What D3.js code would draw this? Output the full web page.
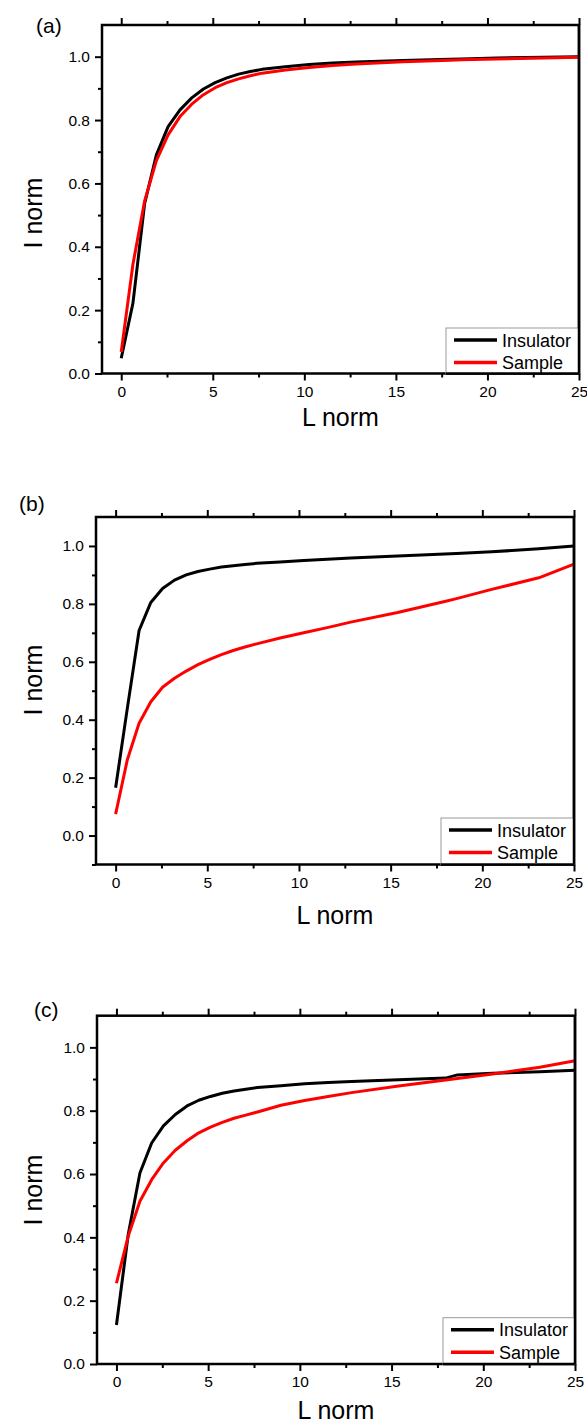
<!DOCTYPE html>
<html><head><meta charset="utf-8">
<script src="https://cdn.jsdelivr.net/npm/d3@7"></script>
<style>
body{margin:0;background:#fff;}
svg{display:block;font-family:"Liberation Sans",Arial,Helvetica,sans-serif;}
</style></head>
<body><svg id="c" width="587" height="1426"></svg>
<script>
// ---- data ----
const xs = [0,0.64,1.28,1.92,2.56,3.21,3.85,4.49,5.13,5.77,6.41,7.05,7.69,8.97,10.26,11.54,12.82,15.38,17.95,18.59,20.51,23.08,25];
const aInsulator = [0.048,0.222,0.537,0.690,0.779,0.832,0.870,0.898,0.918,0.933,0.945,0.953,0.960,0.968,0.975,0.980,0.983,0.988,0.992,0.993,0.996,0.998,1.000];
const aSample    = [0.068,0.345,0.545,0.672,0.753,0.811,0.850,0.880,0.902,0.918,0.930,0.940,0.948,0.958,0.966,0.972,0.977,0.984,0.989,0.990,0.993,0.996,0.998];
const bInsulator = [0.165,0.440,0.708,0.805,0.853,0.882,0.900,0.912,0.920,0.927,0.932,0.936,0.940,0.945,0.950,0.954,0.958,0.965,0.972,0.974,0.980,0.990,1.000];
const bSample    = [0.074,0.262,0.388,0.462,0.512,0.543,0.568,0.590,0.608,0.625,0.639,0.651,0.662,0.682,0.700,0.718,0.737,0.770,0.808,0.818,0.850,0.890,0.937];
const cInsulator = [0.123,0.408,0.603,0.698,0.752,0.788,0.815,0.833,0.845,0.855,0.862,0.868,0.873,0.879,0.885,0.889,0.892,0.898,0.903,0.913,0.918,0.923,0.928];
const cSample    = [0.255,0.403,0.514,0.582,0.635,0.675,0.705,0.730,0.748,0.763,0.776,0.786,0.796,0.817,0.832,0.845,0.857,0.878,0.897,0.902,0.916,0.937,0.958];
const seriesNames = ["Insulator","Sample"];
const seriesColors = ["#000000","#ff0000"];
const xTicks = [0,5,10,15,20,25];
const yTicks = [0.0,0.2,0.4,0.6,0.8,1.0];
const panelLabels = ["(a)","(b)","(c)"];

const svg = d3.select("#c");

const panels = [
  {label:panelLabels[0], data:[aInsulator,aSample], L:102,R:579,T:25,B:373.5, yDom:[0,1.1], xDom:[-1.05,25],
   lab:[36,33], ytitle:[42,213], xtitleY:426, leg:[446,328,579,373.5]},
  {label:panelLabels[1], data:[bInsulator,bSample], L:96,R:574,T:517,B:864.5, yDom:[-0.1,1.1], xDom:[-1.07,25],
   lab:[19,511], ytitle:[42,680], xtitleY:924, leg:[441,818,574,864.5]},
  {label:panelLabels[2], data:[cInsulator,cSample], L:97,R:575,T:1015.7,B:1364, yDom:[0,1.1], xDom:[-1.06,25],
   lab:[34,1017], ytitle:[42,1190], xtitleY:1419, leg:[443,1317.7,575,1364]}
];

panels.forEach(p=>{
  const x = d3.scaleLinear().domain(p.xDom).range([p.L,p.R]);
  const y = d3.scaleLinear().domain(p.yDom).range([p.B,p.T]);
  const g = svg.append("g");

  const xMinor = d3.range(0,25.01,2.5).filter(v=>xTicks.indexOf(v)<0);
  const yMinor = d3.range(p.yDom[0]<0?-0.1:0.1, 1.05, 0.2).map(v=>+v.toFixed(2));

  const bx = g.append("g").attr("transform",`translate(0,${p.B})`)
    .call(d3.axisBottom(x).tickValues(xTicks).tickSize(7).tickPadding(5).tickFormat(d3.format("d")));
  const tx = g.append("g").attr("transform",`translate(0,${p.T})`)
    .call(d3.axisTop(x).tickValues(xTicks).tickSize(7).tickFormat(""));
  const ly = g.append("g").attr("transform",`translate(${p.L},0)`)
    .call(d3.axisLeft(y).tickValues(yTicks).tickSize(7).tickPadding(5).tickFormat(d3.format(".1f")));
  [bx,tx,ly].forEach(a=>{
    a.select(".domain").remove();
    a.selectAll("line").attr("stroke","#000").attr("stroke-width",2);
    a.selectAll("text").attr("font-size",15.5).attr("fill","#000").attr("font-family","Liberation Sans, Arial, sans-serif");
  });
  const minorStyle = a=>{a.select(".domain").remove();a.selectAll("line").attr("stroke","#000").attr("stroke-width",2);};
  g.append("g").attr("transform",`translate(0,${p.B})`)
    .call(d3.axisBottom(x).tickValues(xMinor).tickSize(4).tickFormat("")).call(minorStyle);
  g.append("g").attr("transform",`translate(0,${p.T})`)
    .call(d3.axisTop(x).tickValues(xMinor).tickSize(4).tickFormat("")).call(minorStyle);
  g.append("g").attr("transform",`translate(${p.L},0)`)
    .call(d3.axisLeft(y).tickValues(yMinor).tickSize(4).tickFormat("")).call(minorStyle);

  // frame
  g.append("rect").attr("x",p.L).attr("y",p.T).attr("width",p.R-p.L).attr("height",p.B-p.T)
    .attr("fill","none").attr("stroke","#000").attr("stroke-width",2.5);

  // lines
  const line = d3.line().x((d,i)=>x(xs[i])).y(d=>y(d));
  p.data.forEach((arr,k)=>{
    g.append("path").datum(arr).attr("d",line).attr("fill","none")
      .attr("stroke",seriesColors[k]).attr("stroke-width",3).attr("stroke-linejoin","round");
  });

  // legend
  const [lx0,ly0,lx1,ly1] = p.leg;
  g.append("rect").attr("x",lx0).attr("y",ly0).attr("width",lx1-lx0).attr("height",ly1-ly0)
    .attr("fill","#fff").attr("stroke","#999").attr("stroke-width",1);
  seriesNames.forEach((n,k)=>{
    const yy = ly0 + 12 + k*22.5;
    g.append("line").attr("x1",lx0+8).attr("x2",lx0+51).attr("y1",yy).attr("y2",yy)
      .attr("stroke",seriesColors[k]).attr("stroke-width",3.5);
    g.append("text").attr("x",lx0+56).attr("y",yy+6.5).attr("font-size",18).text(n);
  });
  g.append("line").attr("x1",p.R).attr("x2",p.R).attr("y1",p.T).attr("y2",p.B).attr("stroke","#000").attr("stroke-width",2.5);
  g.append("line").attr("x1",lx0).attr("x2",p.R).attr("y1",p.B).attr("y2",p.B).attr("stroke","#000").attr("stroke-width",2.5);

  // titles
  g.append("text").attr("x",(p.L+p.R)/2).attr("y",p.xtitleY).attr("text-anchor","middle").attr("font-size",25).text("L norm");
  g.append("text").attr("transform",`translate(${p.ytitle[0]},${p.ytitle[1]}) rotate(-90)`)
    .attr("text-anchor","middle").attr("font-size",25).text("I norm");
  g.append("text").attr("x",p.lab[0]).attr("y",p.lab[1]).attr("font-size",21).text(p.label);
});
</script></body></html>
